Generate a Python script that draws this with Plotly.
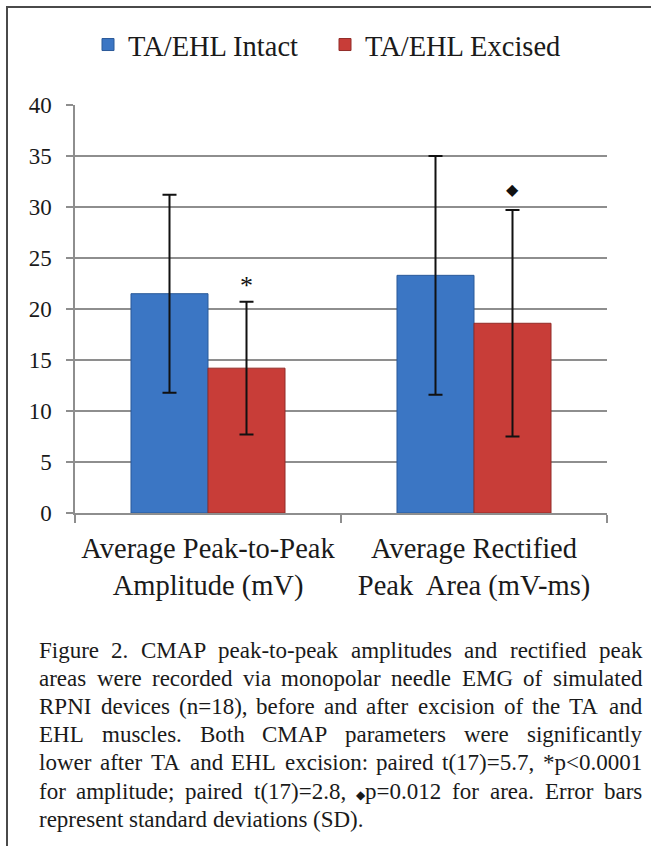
import plotly.graph_objects as go

# ---------------- data ----------------
categories = ["Average Peak-to-Peak<br>Amplitude (mV)",
              "Average Rectified<br>Peak\u00a0 Area (mV-ms)"]
series_names = ["TA/EHL Intact", "TA/EHL Excised"]
intact_mean = [21.5, 23.3]
intact_sd = [9.7, 11.7]
excised_mean = [14.2, 18.6]
excised_sd = [6.5, 11.1]
sig_marks = ["*", "\u25C6"]
sig_y = [22.6, 31.7]
y_ticks = [0, 5, 10, 15, 20, 25, 30, 35, 40]

caption_lines = [
    "Figure 2. CMAP peak-to-peak amplitudes and rectified peak",
    "areas were recorded via monopolar needle EMG of simulated",
    "RPNI devices (n=18), before and after excision of the TA and",
    "EHL muscles. Both CMAP parameters were significantly",
    "lower after TA and EHL excision: paired t(17)=5.7, *p<0.0001",
    "for amplitude; paired t(17)=2.8, \u25C6p=0.012 for area. Error bars",
    "represent standard deviations (SD).",
]

# ---------------- layout constants ----------------
W, H = 651, 846
ML, MR, MT, MB = 75, 44, 105, 333
PW = W - ML - MR
PH = H - MT - MB
BARGAP = 0.421
SERIF = "Liberation Serif"
TXT = "#1a1a1a"
GRID = "#8e8e8e"

def px_x(px):
    return (px - ML) / PW

def px_y(py):
    return (H - MB - py) / PH

# Times / Liberation Serif advance widths (per 1000 em)
TIMES = {' ': 250, '!': 333, '(': 333, ')': 333, '*': 500, ',': 250, '-': 333,
         '.': 250, '/': 278, ':': 278, ';': 278, '<': 564, '=': 564, '>': 564,
         'A': 722, 'B': 667, 'C': 667, 'D': 722, 'E': 611, 'F': 556, 'G': 722,
         'H': 722, 'I': 333, 'J': 389, 'K': 722, 'L': 611, 'M': 889, 'N': 722,
         'O': 722, 'P': 556, 'Q': 722, 'R': 667, 'S': 556, 'T': 611, 'U': 722,
         'V': 722, 'W': 944, 'X': 722, 'Y': 722, 'Z': 611,
         'a': 444, 'b': 500, 'c': 444, 'd': 500, 'e': 444, 'f': 333, 'g': 500,
         'h': 500, 'i': 278, 'j': 278, 'k': 500, 'l': 278, 'm': 778, 'n': 500,
         'o': 500, 'p': 500, 'q': 500, 'r': 333, 's': 389, 't': 278, 'u': 500,
         'v': 500, 'w': 722, 'x': 500, 'y': 500, 'z': 444}

CAP_FS = 23
DIAMOND_FS = 12

def word_width(w):
    total = 0.0
    for ch in w:
        if ch == "\u25C6":
            total += 0.78 * DIAMOND_FS
        else:
            total += TIMES.get(ch, 500) * CAP_FS / 1000
    return total

def word_html(w):
    w = w.replace("<", "&lt;")
    return w.replace("\u25C6", '<span style="font-size:%dpx">\u25C6</span>' % DIAMOND_FS)

fig = go.Figure()
fig.add_trace(go.Bar(
    x=categories, y=intact_mean, name=series_names[0],
    marker=dict(color="#3B76C4", line=dict(color="#2B5A99", width=1)),
    error_y=dict(type="data", array=intact_sd, visible=True,
                 color="#111111", thickness=2, width=7),
))
fig.add_trace(go.Bar(
    x=categories, y=excised_mean, name=series_names[1],
    marker=dict(color="#C83D38", line=dict(color="#922C28", width=1)),
    error_y=dict(type="data", array=excised_sd, visible=True,
                 color="#111111", thickness=2, width=7),
))

annotations = []
cat_w = PW / len(categories)
bar_w = cat_w * (1 - BARGAP) / 2
for i, (mk, yy) in enumerate(zip(sig_marks, sig_y)):
    if mk == "*":
        annotations.append(dict(x=categories[i], y=yy, xref="x", yref="y",
                                text="*", showarrow=False, xshift=bar_w / 2,
                                yshift=-3, font=dict(family=SERIF, size=26, color="#111")))
    else:
        annotations.append(dict(x=categories[i], y=yy, xref="x", yref="y",
                                text=mk, showarrow=False, xshift=bar_w / 2,
                                font=dict(family="DejaVu Sans", size=16, color="#111")))

# caption, justified
LEFT, RIGHT = 37, 640
BASE0, LSTEP = 657, 28.2
for li, line in enumerate(caption_lines):
    words = line.split(" ")
    widths = [word_width(w) for w in words]
    if li < len(caption_lines) - 1 and len(words) > 1:
        gap = (RIGHT - LEFT - sum(widths)) / (len(words) - 1)
    else:
        gap = TIMES[' '] * CAP_FS / 1000
    xpos = LEFT
    ycen = BASE0 + li * LSTEP - 7
    for w, ww in zip(words, widths):
        annotations.append(dict(x=px_x(xpos), y=px_y(ycen), xref="paper", yref="paper",
                                xanchor="left", yanchor="middle", showarrow=False,
                                text=word_html(w), align="left",
                                font=dict(family=SERIF, size=CAP_FS, color=TXT)))
        xpos += ww + gap

shapes = [
    dict(type="line", xref="paper", yref="paper", x0=px_x(6), x1=px_x(W + 2),
         y0=px_y(7), y1=px_y(7), line=dict(color="#4a4a4a", width=2)),
    dict(type="line", xref="paper", yref="paper", x0=px_x(7), x1=px_x(7),
         y0=px_y(6), y1=px_y(H + 2), line=dict(color="#4a4a4a", width=2)),
]

fig.update_layout(
    width=W, height=H,
    margin=dict(l=ML, r=MR, t=MT, b=MB, pad=0),
    paper_bgcolor="white", plot_bgcolor="white",
    barmode="group", bargap=BARGAP, bargroupgap=0,
    font=dict(family=SERIF, color=TXT),
    showlegend=True,
    legend=dict(orientation="h", x=px_x(88), y=px_y(45), xanchor="left", yanchor="middle",
                font=dict(family=SERIF, size=28.5, color=TXT),
                entrywidth=192, entrywidthmode="pixels",
                bgcolor="rgba(0,0,0,0)", itemclick=False),
    xaxis=dict(type="category", showline=True, linecolor=GRID, linewidth=1.5,
               ticks="outside", ticklen=8, tickcolor=GRID, tickwidth=1.5,
               tickson="boundaries", showgrid=False,
               tickfont=dict(family=SERIF, size=28.5, color=TXT),
               ticklabelstandoff=9),
    yaxis=dict(range=[0, 40], tickvals=y_ticks, showline=True, linecolor=GRID,
               linewidth=1.5, ticks="outside", ticklen=7, tickcolor=GRID, tickwidth=1.5,
               showgrid=True, gridcolor=GRID, gridwidth=1.5, zeroline=False,
               tickfont=dict(family=SERIF, size=23, color=TXT),
               ticklabelstandoff=10),
    annotations=annotations,
    shapes=shapes,
)

fig.write_html("out.html")
